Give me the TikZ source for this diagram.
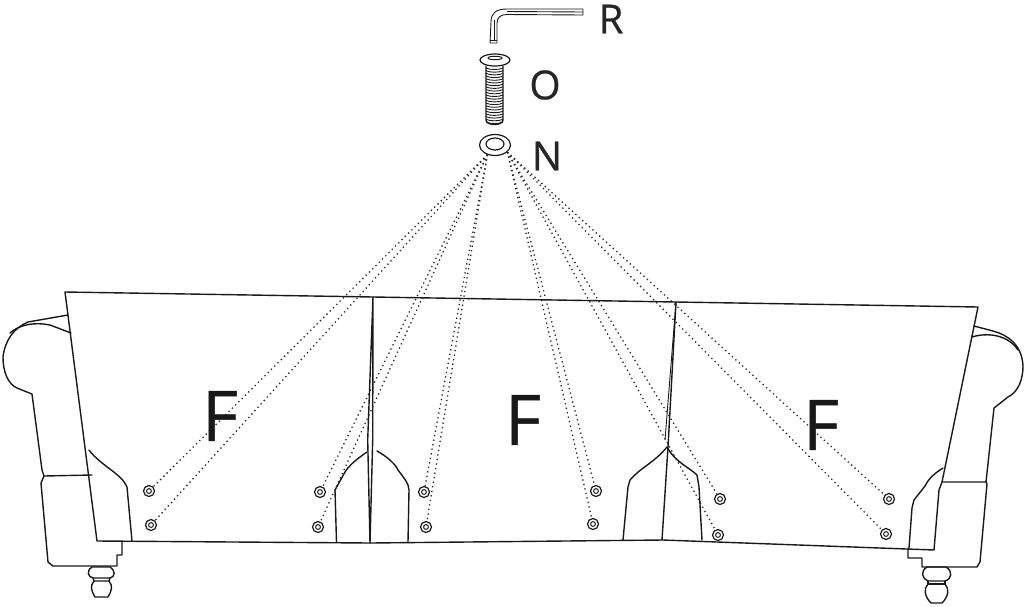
\documentclass[tikz,border=0pt]{standalone}
\usepackage{fontspec}
\setmainfont{Open Sans}
\newfontfamily\letterfont[FakeBold=0.6]{Open Sans}
\usetikzlibrary{shapes.geometric}
\tikzset{
  sofaline/.style={line width=1.4pt, line join=round, line cap=round, color=black!90},
  thinline/.style={line width=0.9pt, line join=round, color=black!90},
  dotline/.style={line width=1.3pt, dash pattern=on 1.3pt off 3.3pt, color=black!85},
  hole/.style={circle, draw=black!90, line width=1.2pt, minimum size=11pt, inner sep=0pt,
    path picture={\draw[line width=1pt, black!90] (path picture bounding box.center) circle (2.4pt);}},
  bigletter/.style={inner sep=0pt, text=black!90, font=\letterfont\fontsize{70}{70}\selectfont},
  partletter/.style={inner sep=0pt, text=black!85, font=\letterfont\fontsize{40}{40}\selectfont},
}
\begin{document}
\begin{tikzpicture}[x=1pt,y=-1pt]
  \useasboundingbox (0,0) rectangle (1026,606);

  % hex key
  \draw[thinline] (583,9) -- (507,9) .. controls (496,9) and (491,13) .. (491,22) -- (490,43) -- (497,43)
    -- (497,23) .. controls (497,17) and (501,14.5) .. (507,14.5) -- (583,15) -- cycle;
  \draw[thinline] (507,11.5) -- (583,12);
  \draw[thinline] (494,20) -- (494,41);
  \draw[thinline] (490,40) -- (497,40);

  % bolt
  \foreach \y in {68,70.7,...,122}
    \draw[thinline] (486,\y) .. controls (490,\y+2) and (499,\y+2) .. (503,\y);
  \draw[sofaline] (486,66) -- (486,120) .. controls (486,126) and (503,126) .. (503,120) -- (503,66);
  \node[ellipse, draw=black!90, fill=white, line width=1.2pt, minimum width=30pt, minimum height=12pt, inner sep=0pt] (bolthead) at (495,60) {};
  \node[ellipse, draw=black!90, line width=1pt, minimum width=14pt, minimum height=3.5pt, inner sep=0pt] (boltsocket) at (495,58) {};

  % washer
  \node[ellipse, draw=black!90, line width=1.2pt, minimum width=31pt, minimum height=21pt, inner sep=0pt] (washer) at (495,145) {};
  \node[ellipse, draw=black!90, line width=1.2pt, minimum width=18pt, minimum height=12pt, inner sep=0pt] (washerhole) at (495,144) {};

  \node[partletter] (labelR) at (611,19) {R};
  \node[partletter] (labelO) at (545,85) {O};
  \node[partletter] (labelN) at (547,156) {N};

  % left arm
  \draw[sofaline] (68,315) -- (28,322) .. controls (14,328) and (5,340) .. (3,357)
    .. controls (3,372) and (8,384) .. (17,388) -- (32,394) -- (42,470) -- (44,476) -- (92,475);
  \draw[sofaline] (10,333) .. controls (20,324) and (36,322) .. (50,325) -- (71,333);
  \draw[sofaline] (44,476) -- (41,483) -- (48,562) -- (53,566) -- (117,566) -- (117,555) -- (122,555) -- (122,542);
  % left foot
  \draw[sofaline] (92,567) .. controls (86,571) and (88,577) .. (93,578) -- (110,578)
    .. controls (115,577) and (116,571) .. (110,567) -- cycle;
  \draw[sofaline] (93,578) -- (94,581) -- (109,581) -- (110,578);
  \draw[sofaline] (94,581) .. controls (90,586) and (91,590) .. (95,597) -- (108,597)
    .. controls (112,590) and (113,586) .. (109,581);

  % right arm
  \draw[sofaline] (974,326) -- (993,331) .. controls (1008,335) and (1022,345) .. (1023,366)
    .. controls (1023,380) and (1018,392) .. (1008,397) -- (994,408) -- (986,482) -- (942,482);
  \draw[sofaline] (972,337) .. controls (988,332) and (1008,335) .. (1018,350);
  \draw[sofaline] (986,482) -- (987,484) -- (980,562) -- (977,567) -- (922,567) -- (922,558) -- (908,558) -- (908,548);
  % right foot
  \draw[sofaline] (927,567) .. controls (920,571) and (922,579) .. (928,581) -- (945,581)
    .. controls (952,579) and (953,571) .. (946,567) -- cycle;
  \draw[sofaline] (928,581) -- (928,584) -- (945,584) -- (945,581);
  \draw[sofaline] (928,584) .. controls (923,589) and (925,597) .. (931,603) -- (942,603)
    .. controls (948,597) and (950,589) .. (945,584);

  % back panels
  \draw[sofaline] (65,292) -- (373,297) -- (676,302) -- (978,307) -- (942,482) -- (939,490) -- (934,550)
    -- (663,540) -- (370,543) -- (97,541) -- cycle;
  \draw[sofaline] (373,297) -- (367.7,440) -- (370,543) -- (372.7,440) -- cycle;
  \draw[sofaline] (676,302) -- (668,447) -- (662,540);
  \draw[thinline] (676,302) -- (665,440);

  % corners
  \draw[sofaline] (89,450) .. controls (100,465) and (122,474) .. (127,487) -- (132,541);
  \draw[sofaline] (367,452) .. controls (355,460) and (348,467) .. (345,472) -- (335,490) -- (336.5,542);
  \draw[sofaline] (377,451) .. controls (388,457) and (396,465) .. (398,470) .. controls (404,478) and (409,484) .. (409,490) -- (408,542);
  \draw[sofaline] (667,447) .. controls (655,462) and (640,468) .. (630,480) -- (628,487) -- (623,540);
  \draw[sofaline] (667,447) .. controls (675,462) and (690,468) .. (697,475) -- (699,487) -- (702,540);
  \draw[sofaline] (943,468) .. controls (932,475) and (928,480) .. (925,486) -- (914,500) -- (912,508) -- (909,548);

  % holes
  \node[hole] (holeA) at (149,491) {};
  \node[hole] (holeB) at (151,525) {};
  \node[hole] (holeC) at (320,492) {};
  \node[hole] (holeD) at (318,527) {};
  \node[hole] (holeE) at (424,492) {};
  \node[hole] (holeF) at (426,527) {};
  \node[hole] (holeG) at (596,491) {};
  \node[hole] (holeH) at (593,524) {};
  \node[hole] (holeI) at (720,499) {};
  \node[hole] (holeJ) at (718,535) {};
  \node[hole] (holeK) at (889,499) {};
  \node[hole] (holeL) at (886,534) {};

  \foreach \h in {holeA,holeB,holeC,holeD,holeE,holeF}
    \draw[dotline] (washer.232) -- (\h);
  \foreach \h in {holeG,holeH,holeI,holeJ,holeK,holeL}
    \draw[dotline] (washer.330) -- (\h);

  \node[bigletter] (panelA) at (220,416) {F};
  \node[bigletter] (panelB) at (523,420) {F};
  \node[bigletter] (panelC) at (821,425) {F};
\end{tikzpicture}
\end{document}
